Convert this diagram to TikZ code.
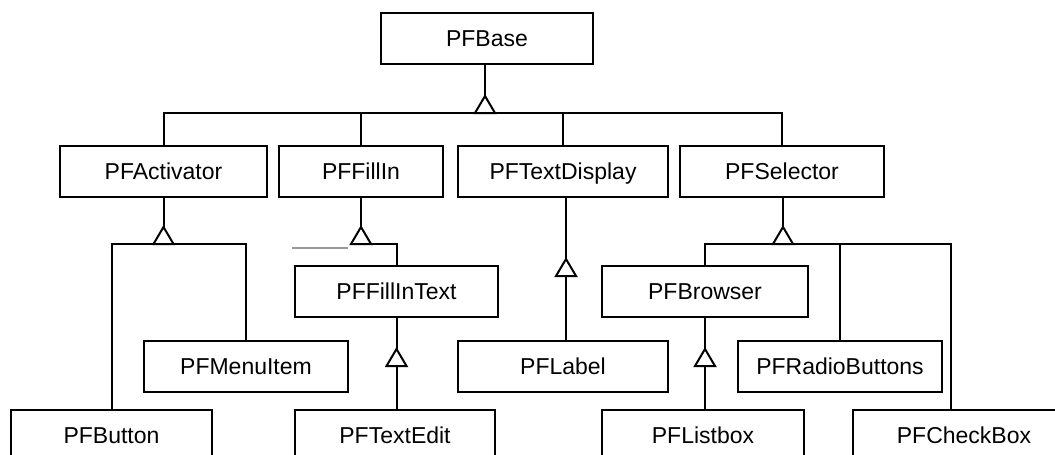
\documentclass[tikz,border=0pt]{standalone}
\usepackage{fontspec}
\setmainfont{Liberation Sans}
\begin{document}
\begin{tikzpicture}[x=1pt,y=-1pt,
  cls/.style={draw=black, line width=2pt, fill=white, inner sep=0pt,
    minimum height=51pt, text height=16.5pt, text depth=0pt,
    font=\fontsize{23}{27}\selectfont},
  conn/.style={line width=2pt, black},
  tri/.style={draw=black, line width=2pt, fill=white, line join=miter}]
\useasboundingbox (0,0) rectangle (1055,455);
\clip (0,0) rectangle (1055,455);
\fill[white] (0,0) rectangle (1055,455);

% nodes
\node[cls, minimum width=212pt] (base) at (487,38.5) {PFBase};
\node[cls, minimum width=207pt] (act) at (163.5,171.5) {PFActivator};
\node[cls, minimum width=164pt] (fill) at (361,171.5) {PFFillIn};
\node[cls, minimum width=210pt] (td) at (563,171.5) {PFTextDisplay};
\node[cls, minimum width=204pt] (sel) at (782,171.5) {PFSelector};
\node[cls, minimum width=203pt] (fit) at (396.5,291.5) {PFFillInText};
\node[cls, minimum width=206pt] (brw) at (705,291.5) {PFBrowser};
\node[cls, minimum width=204pt] (menu) at (246,366.5) {PFMenuItem};
\node[cls, minimum width=210pt] (lab) at (563,366.5) {PFLabel};
\node[cls, minimum width=204pt] (radio) at (840,366.5) {PFRadioButtons};
\node[cls, minimum width=201pt] (btn) at (111.5,435.5) {PFButton};
\node[cls, minimum width=200pt] (te) at (395,435.5) {PFTextEdit};
\node[cls, minimum width=202pt] (lb) at (703,435.5) {PFListbox};
\node[cls, minimum width=222pt] (cb) at (964,435.5) {PFCheckBox};

% PFBase hierarchy
\coordinate (bb) at (485,113);
\coordinate (ba) at (485,96);
\draw[conn] (act.north) |- (bb) -| (sel.north);
\draw[conn] (fill.north) -- (fill.north |- bb);
\draw[conn] (td.north) -- (td.north |- bb);
\draw[conn, line width=2.6pt] (base.south -| ba) -- (ba);
\draw[tri] (ba) -- ++(10,17) -- ++(-20,0) -- cycle;

% PFActivator hierarchy
\coordinate (ab) at (163.5,244);
\coordinate (aa) at (163.5,227);
\draw[conn] (btn.north) |- (ab) -| (menu.north);
\draw[conn] (act.south) -- (aa);
\draw[tri] (aa) -- ++(10,17) -- ++(-20,0) -- cycle;

% PFFillIn hierarchy
\coordinate (fb) at (361,244);
\coordinate (fa) at (361,227);
\draw[conn] (fb) -| (fit.north);
\draw[conn] (fill.south) -- (fa);
\draw[tri] (fa) -- ++(10,17) -- ++(-20,0) -- cycle;
\draw[line width=2pt, gray!80] (292,248) -- (348,248);

% PFFillInText -> PFTextEdit
\coordinate (ea) at (fit.south |- 0,349);
\draw[conn] (te.north -| ea) -- (ea) -- (fit.south);
\draw[tri] (ea) -- ++(10,17) -- ++(-20,0) -- cycle;

% PFTextDisplay -> PFLabel
\coordinate (la) at (566,259);
\draw[conn] (td.south -| la) -- (lab.north -| la);
\draw[tri] (la) -- ++(10,17) -- ++(-20,0) -- cycle;

% PFSelector hierarchy
\coordinate (sb) at (783,244);
\coordinate (sa) at (783,227);
\coordinate (cbt) at (951,410);
\draw[conn] (sel.south -| sa) -- (sa);
\draw[conn] (brw.north) |- (sb) -| (cbt);
\draw[conn] (radio.north) -- (radio.north |- sb);
\draw[tri] (sa) -- ++(10,17) -- ++(-20,0) -- cycle;

% PFBrowser -> PFListbox
\coordinate (lba) at (brw.south |- 0,349);
\draw[conn] (lb.north -| lba) -- (lba) -- (brw.south);
\draw[tri] (lba) -- ++(10,17) -- ++(-20,0) -- cycle;
\end{tikzpicture}
\end{document}
